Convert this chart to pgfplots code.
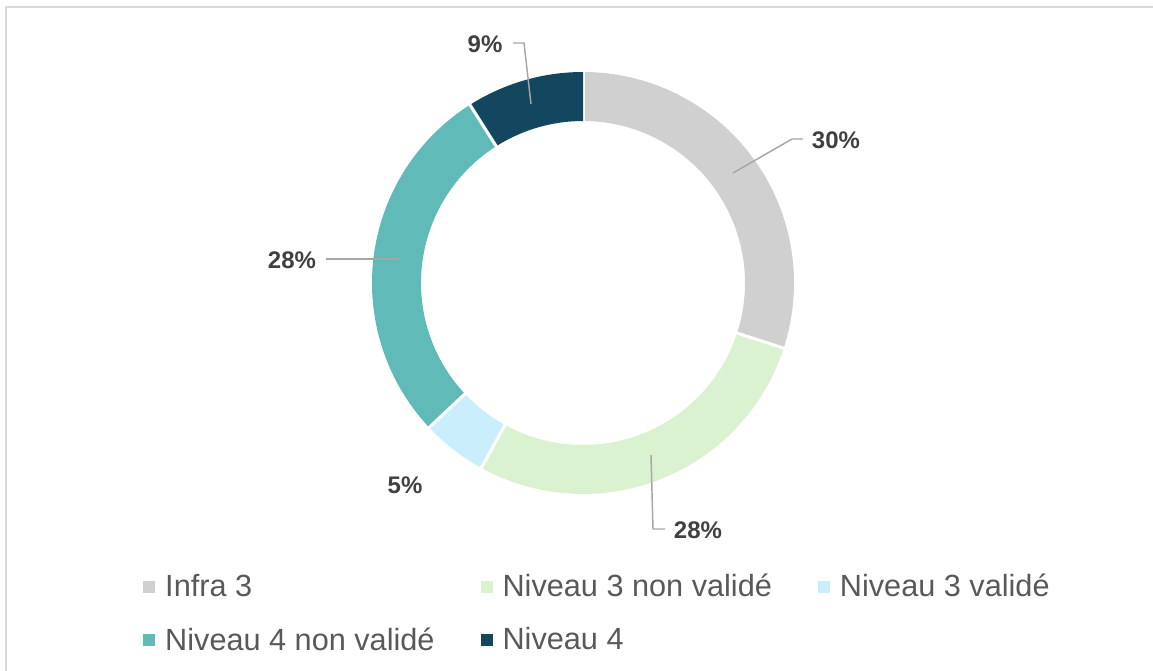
\documentclass[border=0pt]{standalone}
\usepackage{pgfplots}
\usepackage{pgfplotstable}
\pgfplotsset{compat=1.18}
\usepackage{fontspec}
\setmainfont{Liberation Sans}
\definecolor{cInfra}{HTML}{D0D0D0}
\definecolor{cNtnv}{HTML}{DAF2D0}
\definecolor{cNtv}{HTML}{CAEEFB}
\definecolor{cNqnv}{HTML}{60BAB7}
\definecolor{cNq}{HTML}{134760}
\definecolor{labelgray}{HTML}{404040}
\definecolor{leggray}{HTML}{595959}
\definecolor{leadgray}{HTML}{A6A6A6}
\definecolor{framegray}{HTML}{D9D9D9}

\pgfplotstableread{
value color
30 cInfra
28 cNtnv
5 cNtv
28 cNqnv
9 cNq
}\donutdata

\begin{document}
\begin{tikzpicture}%
\def\cum{0}%
\pgfplotsforeachungrouped \i in {0,...,4}{%
 \pgfplotstablegetelem{\i}{value}\of\donutdata
 \pgfmathsetmacro\sa{90-3.6*\cum}%
 \pgfmathsetmacro\cum{\cum+\pgfplotsretval}%
 \pgfmathsetmacro\ea{90-3.6*\cum}%
 \expandafter\xdef\csname sa\i\endcsname{\sa}%
 \expandafter\xdef\csname ea\i\endcsname{\ea}%
 \pgfplotstablegetelem{\i}{color}\of\donutdata
 \expandafter\xdef\csname col\i\endcsname{\pgfplotsretval}%
}%
\useasboundingbox (0,0) rectangle (864.75pt,503.25pt);
\begin{axis}[
 at={(0,0)}, anchor=south west,
 scale only axis, width=864.75pt, height=503.25pt,
 xmin=0, xmax=1153, ymin=0, ymax=671, y dir=reverse,
 hide axis, clip=false,
 legend columns=3, legend cell align=left,
 legend image code/.code={\fill[#1, draw=none] (0pt,-4.5pt) rectangle (9pt,4.5pt);},
 legend style={at={(axis description cs:0.1240,0.1485)}, anchor=north west,
   draw=none, fill=none, inner sep=0pt,
   font=\fontsize{23}{27.5}\selectfont, text=leggray,
   column sep=5.5pt, row sep=17.5pt,
   /tikz/every even column/.append style={column sep=32.5pt}},
]
\addlegendimage{fill=cInfra, draw=none}\addlegendentry{Infra 3}
\addlegendimage{fill=cNtnv, draw=none}\addlegendentry{Niveau 3 non validé}
\addlegendimage{fill=cNtv, draw=none}\addlegendentry{Niveau 3 validé}
\addlegendimage{fill=cNqnv, draw=none}\addlegendentry{Niveau 4 non validé}
\addlegendimage{fill=cNq, draw=none}\addlegendentry{Niveau 4}

\pgfplotsinvokeforeach{0,...,4}{%
 \edef\slice{\noexpand\fill[\csname col#1\endcsname, shift={(axis cs:583,283)}] (\csname sa#1\endcsname:158.25pt) arc[start angle=\csname sa#1\endcsname, end angle=\csname ea#1\endcsname, radius=158.25pt] -- (\csname ea#1\endcsname:121.5pt) arc[start angle=\csname ea#1\endcsname, end angle=\csname sa#1\endcsname, radius=121.5pt] -- cycle;}%
 \slice
 \edef\sep{\noexpand\draw[white, line width=2.3pt, shift={(axis cs:583,283)}] (\csname sa#1\endcsname:119pt) -- (\csname sa#1\endcsname:161pt);}%
 \sep
}

\draw[framegray, line width=1.5pt] (axis cs:6,671) -- (axis cs:6,7) -- (axis cs:1153,7);

\draw[leadgray, line width=1.1pt] (axis cs:513,43) -- (axis cs:524,43) -- (axis cs:531,104);
\draw[leadgray, line width=1.1pt] (axis cs:803,139) -- (axis cs:792,139) -- (axis cs:733,173);
\draw[leadgray, line width=1.1pt] (axis cs:326,259) -- (axis cs:399,259);
\draw[leadgray, line width=1.1pt] (axis cs:665,529) -- (axis cs:653,529) -- (axis cs:651,455);

\tikzset{lbl/.style={font=\bfseries\fontsize{18}{21}\selectfont, text=labelgray, inner sep=0pt}}
\node[lbl] at (axis cs:485,44) {9\%};
\node[lbl] at (axis cs:836,140) {30\%};
\node[lbl] at (axis cs:292,260) {28\%};
\node[lbl] at (axis cs:405,485) {5\%};
\node[lbl] at (axis cs:698,530) {28\%};
\end{axis}
\end{tikzpicture}
\end{document}
